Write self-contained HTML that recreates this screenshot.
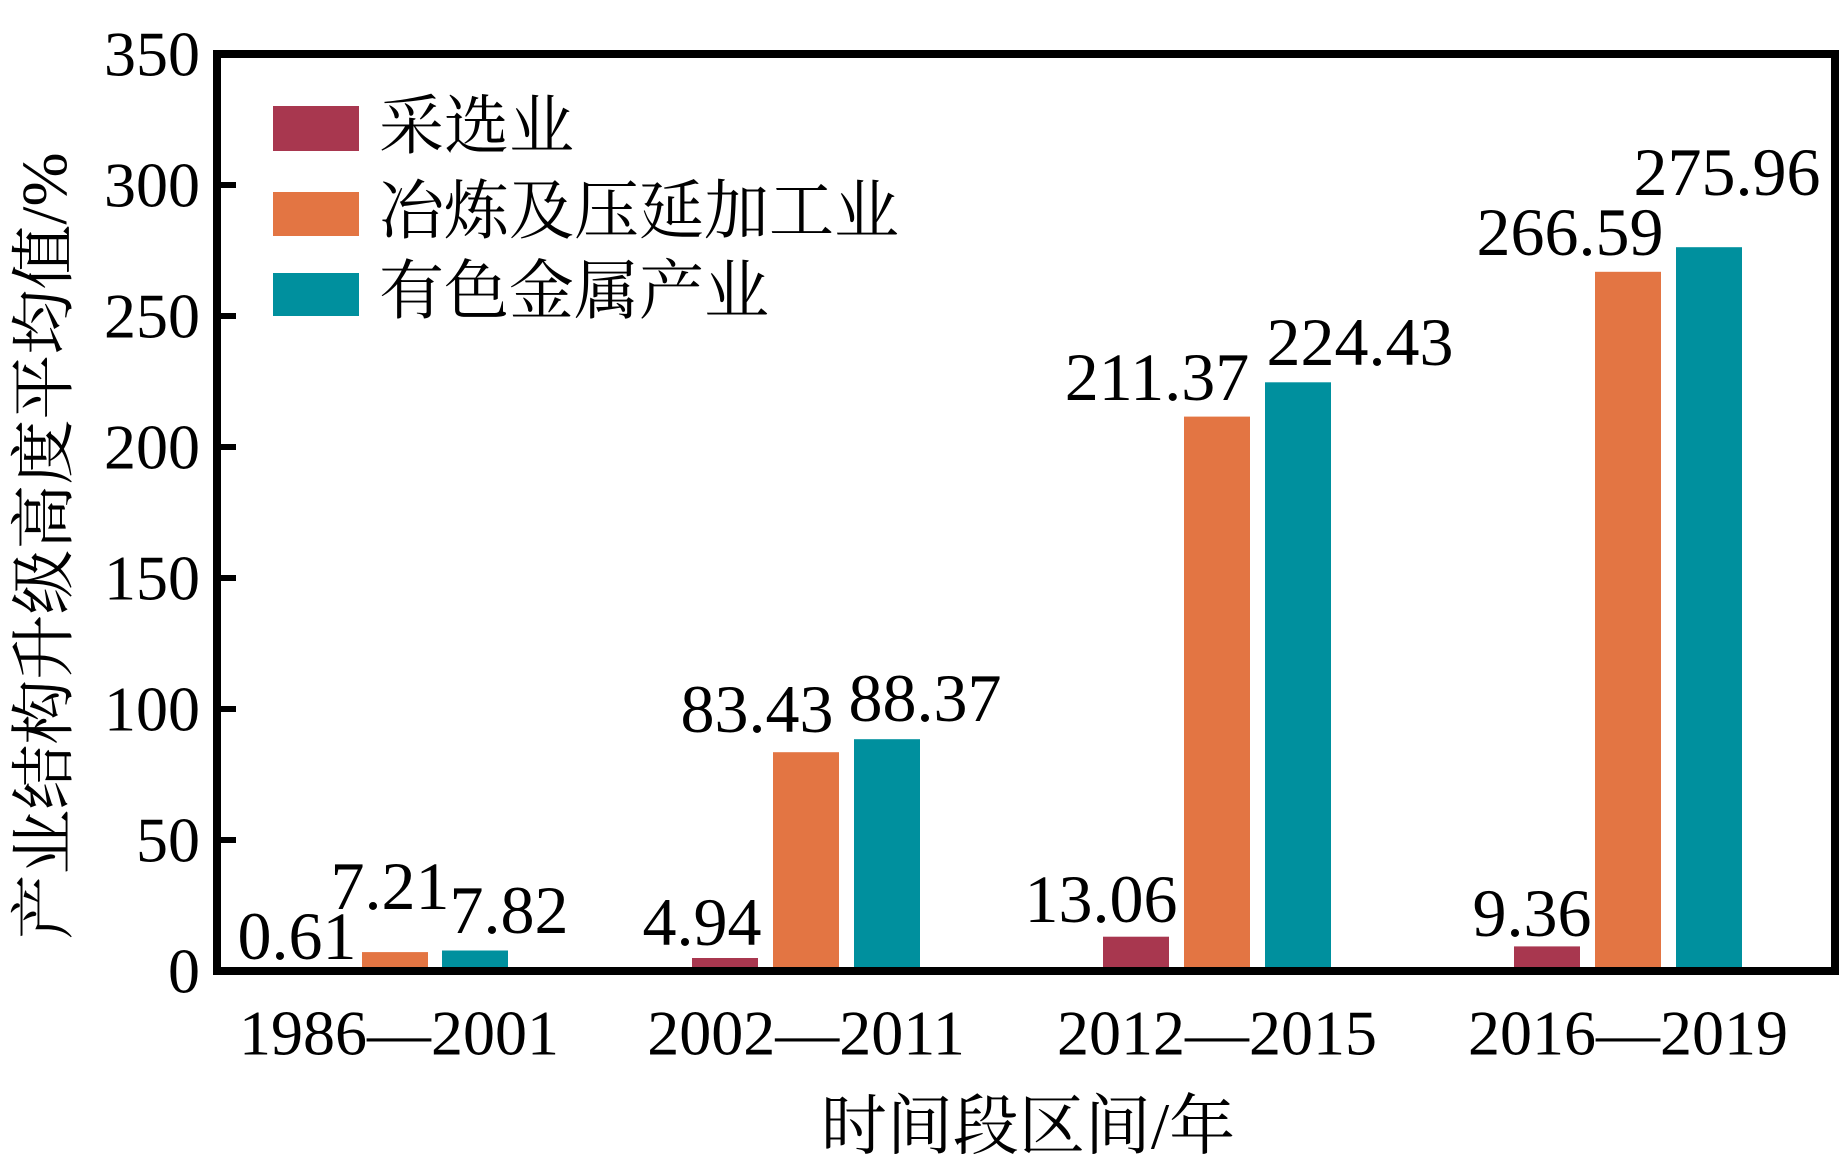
<!DOCTYPE html>
<html><head><meta charset="utf-8"><style>
html,body{margin:0;padding:0;background:#fff;}
svg{display:block;}
.t{font-family:"Liberation Serif","Noto Serif CJK SC",serif;fill:#000;}
</style></head><body>
<svg width="1843" height="1170" viewBox="0 0 1843 1170" xmlns="http://www.w3.org/2000/svg">
<g fill="#A8374F">
<rect x="282" y="969.4" width="66" height="1.6"/>
<rect x="692" y="958" width="66" height="13"/>
<rect x="1103" y="936.7" width="66" height="34.3"/>
<rect x="1514" y="946.4" width="66" height="24.6"/>
</g>
<g fill="#E37543">
<rect x="362" y="952.1" width="66" height="18.9"/>
<rect x="773" y="752.2" width="66" height="218.8"/>
<rect x="1184" y="416.6" width="66" height="554.4"/>
<rect x="1595" y="271.8" width="66" height="699.2"/>
</g>
<g fill="#00909E">
<rect x="442" y="950.5" width="66" height="20.5"/>
<rect x="854" y="739.2" width="66" height="231.8"/>
<rect x="1265" y="382.3" width="66" height="588.7"/>
<rect x="1676" y="247.2" width="66" height="723.8"/>
</g>
<rect x="217" y="54" width="1618" height="917" fill="none" stroke="#000" stroke-width="8"/>
<g stroke="#000" stroke-width="6">
<line x1="217" y1="185" x2="236" y2="185"/><line x1="217" y1="316" x2="236" y2="316"/>
<line x1="217" y1="447" x2="236" y2="447"/><line x1="217" y1="578" x2="236" y2="578"/>
<line x1="217" y1="709" x2="236" y2="709"/><line x1="217" y1="840" x2="236" y2="840"/>
</g>
<g class="t" font-size="64" text-anchor="end" dominant-baseline="central">
<text x="200" y="54">350</text><text x="200" y="185">300</text><text x="200" y="316">250</text>
<text x="200" y="447">200</text><text x="200" y="578">150</text><text x="200" y="709">100</text>
<text x="200" y="840">50</text><text x="200" y="971">0</text>
</g>
<g class="t" font-size="64" text-anchor="middle" dominant-baseline="central">
<text x="399" y="1033">1986—2001</text><text x="806" y="1033">2002—2011</text>
<text x="1217" y="1033">2012—2015</text><text x="1628" y="1033">2016—2019</text>
</g>
<g class="t" font-size="68" text-anchor="middle" dominant-baseline="central">
<text x="297" y="936">0.61</text><text x="390" y="886">7.21</text><text x="509" y="910">7.82</text>
<text x="702" y="922">4.94</text><text x="757" y="709">83.43</text><text x="925" y="698">88.37</text>
<text x="1101" y="899">13.06</text><text x="1157" y="377">211.37</text><text x="1360" y="342">224.43</text>
<text x="1532" y="913">9.36</text><text x="1570" y="232">266.59</text><text x="1727" y="172">275.96</text>
</g>
<rect x="273" y="106" width="86" height="45" fill="#A8374F"/>
<rect x="273" y="192" width="86" height="44" fill="#E37543"/>
<rect x="273" y="273" width="86" height="43" fill="#00909E"/>
<g class="t" font-size="65" dominant-baseline="central">
<text x="379" y="127">采选业</text><text x="379" y="212">冶炼及压延加工业</text><text x="379" y="292">有色金属产业</text>
</g>
<text class="t" font-size="66" x="1028" y="1127" text-anchor="middle" dominant-baseline="central">时间段区间/年</text>
<text class="t" font-size="65" transform="translate(45,546) rotate(-90)" text-anchor="middle" dominant-baseline="central">产业结构升级高度平均值/%</text>
</svg>
</body></html>
